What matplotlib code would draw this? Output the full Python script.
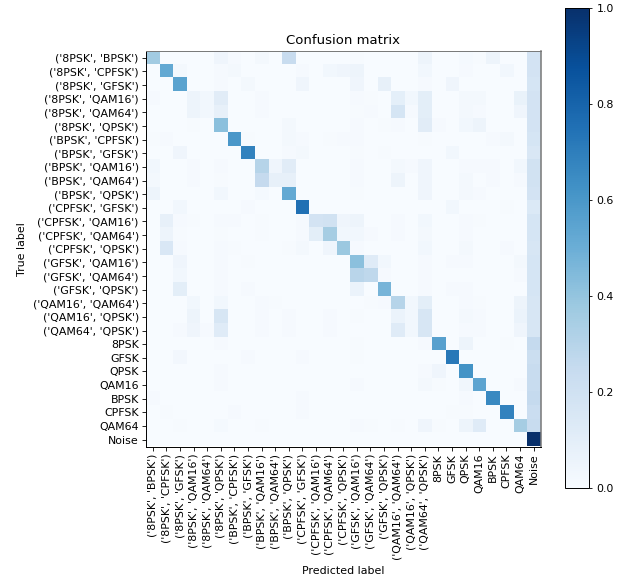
import numpy as np
import matplotlib
matplotlib.use("Agg")
import matplotlib.pyplot as plt

classes = ["('8PSK', 'BPSK')", "('8PSK', 'CPFSK')", "('8PSK', 'GFSK')", "('8PSK', 'QAM16')",
           "('8PSK', 'QAM64')", "('8PSK', 'QPSK')", "('BPSK', 'CPFSK')", "('BPSK', 'GFSK')",
           "('BPSK', 'QAM16')", "('BPSK', 'QAM64')", "('BPSK', 'QPSK')", "('CPFSK', 'GFSK')",
           "('CPFSK', 'QAM16')", "('CPFSK', 'QAM64')", "('CPFSK', 'QPSK')", "('GFSK', 'QAM16')",
           "('GFSK', 'QAM64')", "('GFSK', 'QPSK')", "('QAM16', 'QAM64')", "('QAM16', 'QPSK')",
           "('QAM64', 'QPSK')", "8PSK", "GFSK", "QPSK", "QAM16", "BPSK", "CPFSK", "QAM64", "Noise"]

# Non-zero cells of each true-label row: {predicted index: share}
rows = [
    {0: .36, 5: .04, 6: .01, 8: .02, 10: .24, 15: .005, 20: .05, 23: .015, 24: .005, 25: .05, 28: .18},
    {1: .52, 2: .02, 5: .01, 6: .02, 11: .01, 13: .03, 14: .04, 15: .05, 20: .03, 23: .01, 26: .03, 28: .18},
    {2: .55, 5: .01, 7: .02, 11: .04, 15: .04, 17: .08, 20: .01, 22: .04, 28: .17},
    {0: .01, 3: .05, 4: .03, 5: .11, 8: .01, 15: .01, 16: .005, 18: .09, 19: .03, 20: .1, 23: .02, 24: .02, 27: .07, 28: .18},
    {3: .05, 4: .03, 5: .08, 8: .01, 15: .005, 16: .01, 18: .17, 19: .01, 20: .1, 23: .02, 24: .01, 27: .04, 28: .18},
    {3: .005, 5: .42, 10: .02, 15: .01, 17: .005, 18: .01, 20: .11, 21: .01, 23: .03, 24: .05, 28: .18},
    {0: .005, 1: .01, 6: .6, 7: .005, 10: .02, 11: .01, 13: .005, 14: .01, 15: .01, 20: .005, 25: .01, 26: .02, 28: .17},
    {2: .04, 7: .68, 10: .01, 11: .02, 15: .005, 17: .005, 22: .03, 28: .15},
    {0: .03, 3: .01, 5: .01, 8: .3, 9: .04, 10: .11, 15: .01, 18: .02, 19: .01, 20: .04, 23: .01, 24: .01, 25: .01, 27: .03, 28: .19},
    {0: .02, 3: .01, 5: .005, 8: .25, 9: .08, 10: .08, 15: .01, 18: .05, 20: .04, 23: .02, 25: .01, 27: .01, 28: .19},
    {0: .05, 5: .03, 8: .015, 10: .52, 15: .005, 20: .04, 23: .02, 24: .01, 28: .18},
    {2: .03, 7: .01, 11: .75, 22: .03, 26: .005, 28: .14},
    {1: .08, 2: .01, 3: .005, 5: .01, 6: .01, 8: .005, 11: .01, 12: .18, 13: .19, 14: .04, 15: .05, 18: .01, 20: .03, 23: .01, 24: .005, 28: .17},
    {1: .05, 2: .005, 5: .005, 8: .005, 11: .01, 12: .1, 13: .35, 14: .03, 15: .03, 16: .01, 18: .01, 20: .02, 23: .01, 28: .17},
    {1: .15, 2: .01, 5: .01, 6: .005, 10: .005, 11: .02, 13: .04, 14: .38, 15: .01, 20: .03, 23: .02, 26: .01, 28: .16},
    {2: .04, 5: .01, 7: .005, 15: .42, 16: .12, 17: .03, 20: .01, 22: .01, 23: .01, 27: .02, 28: .17},
    {2: .03, 5: .01, 15: .29, 16: .27, 17: .01, 20: .01, 27: .01, 28: .17},
    {2: .1, 5: .01, 7: .01, 15: .06, 17: .47, 20: .01, 22: .01, 23: .01, 28: .17},
    {3: .03, 5: .03, 8: .01, 9: .005, 16: .005, 17: .01, 18: .3, 19: .03, 20: .1, 23: .01, 24: .005, 27: .05, 28: .16},
    {3: .05, 5: .16, 8: .01, 10: .01, 13: .01, 15: .005, 18: .06, 19: .03, 20: .16, 23: .02, 24: .01, 27: .06, 28: .16},
    {2: .01, 3: .04, 4: .01, 5: .12, 8: .01, 10: .01, 13: .01, 18: .12, 19: .03, 20: .16, 23: .01, 24: .01, 27: .04, 28: .16},
    {5: .01, 15: .005, 20: .01, 21: .56, 23: .05, 26: .005, 28: .25},
    {2: .025, 7: .01, 11: .01, 15: .005, 22: .72, 28: .22},
    {5: .01, 20: .01, 21: .04, 23: .62, 28: .24},
    {5: .01, 15: .01, 20: .02, 21: .005, 23: .035, 24: .54, 27: .01, 28: .24},
    {0: .01, 11: .01, 23: .01, 25: .66, 28: .25},
    {1: .005, 6: .01, 11: .01, 22: .005, 23: .005, 26: .68, 28: .23},
    {2: .005, 5: .015, 8: .005, 15: .01, 16: .005, 18: .005, 20: .04, 21: .005, 23: .05, 24: .12, 27: .35, 28: .24},
    {28: 1.0},
]

cm = np.zeros((len(classes), len(classes)))
for i, row in enumerate(rows):
    for j, v in row.items():
        cm[i, j] = v

W, H = 623, 580
fig = plt.figure(figsize=(W / 100, H / 100), dpi=100)
ax = fig.add_axes([146 / W, 1 - 446.5 / H, 394.5 / W, 395.5 / H])
im = ax.imshow(cm, cmap=plt.cm.Blues, vmin=0, vmax=1, aspect="auto", interpolation="nearest")
ax.set_title("Confusion matrix", fontsize=9.5, pad=4.8)
ticks = np.arange(len(classes))
ax.set_xticks(ticks)
ax.set_xticklabels(classes, rotation=90, fontsize=7.9)
ax.set_yticks(ticks)
ax.set_yticklabels(classes, fontsize=7.9)
ax.tick_params(length=2.6, width=0.6, pad=2.6)
ax.set_xlabel("Predicted label", fontsize=7.9, labelpad=4)
ax.set_ylabel("True label", fontsize=7.9, labelpad=4)
for side, s in ax.spines.items():
    s.set_linewidth(0.7)
ax.spines["top"].set_color("#777777")
ax.spines["right"].set_color("#777777")
ax.spines["right"].set_linewidth(1.1)

cax = fig.add_axes([565 / W, 1 - 488 / H, 24 / W, 480.5 / H])
cb = fig.colorbar(im, cax=cax)
cb.set_ticks([0, .2, .4, .6, .8, 1.0])
cb.ax.tick_params(labelsize=7.9, length=2.4, width=0.6, pad=3)
cb.outline.set_linewidth(0.7)

fig.savefig("out.png", dpi=100)
